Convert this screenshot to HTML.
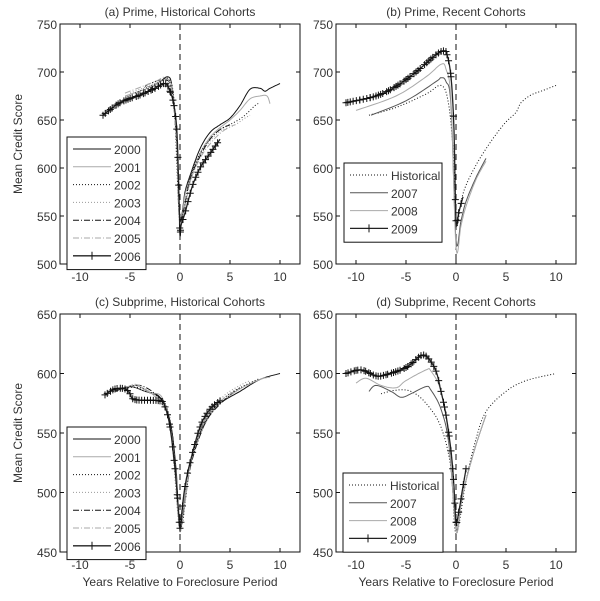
<!DOCTYPE html><html><head><style>body{margin:0;background:#fff}svg{display:block}text{font-family:"Liberation Sans",sans-serif;fill:#333}</style></head><body>
<svg id="s" width="600" height="601" xmlns="http://www.w3.org/2000/svg"></svg>
<script>
const S=document.getElementById('s');let out='';
function P(L,T,W,H,x0,x1,y0,y1){return{L,T,W,H,fx:x=>L+(x-x0)/(x1-x0)*W,fy:y=>T+H-(y-y0)/(y1-y0)*H};}
function interp(pts){let r=[];for(let i=0;i<pts.length-1;i++){let p0=pts[Math.max(0,i-1)],p1=pts[i],p2=pts[i+1],p3=pts[Math.min(pts.length-1,i+2)];for(let t=0;t<1;t+=0.1){let t2=t*t,t3=t2*t;let f=(a,b,c,d)=>0.5*(2*b+(-a+c)*t+(2*a-5*b+4*c-d)*t2+(-a+3*b-3*c+d)*t3);r.push([f(p0[0],p1[0],p2[0],p3[0]),f(p0[1],p1[1],p2[1],p3[1])]);}}r.push(pts[pts.length-1]);return r;}
const ST={s:'stroke="#111" stroke-width="1"',g:'stroke="#aaa" stroke-width="1"',d:'stroke="#111" stroke-dasharray="1,2"',dg:'stroke="#999" stroke-dasharray="1,2"',dd:'stroke="#111" stroke-dasharray="6,2,1,2"',dgd:'stroke="#aaa" stroke-dasharray="6,2,1,2"',m:'stroke="#222" stroke-width="1.3"',dk:'stroke="#555" stroke-width="1"'};
function mk(X,Y){out+=`<path d="M${X-3.5},${Y}h7M${X},${Y-3.5}v7" stroke="#111"/>`;}
function line(p,pts,st,mark){let c=interp(pts);out+=`<polyline fill="none" ${ST[st]} points="${c.map(q=>p.fx(q[0]).toFixed(1)+','+p.fy(q[1]).toFixed(1)).join(' ')}"/>`;if(mark){let x0=pts[0][0],x1=pts[pts.length-1][0];for(let x=x0;x<=x1+1e-6;x+=0.25){let best=c.reduce((a,b)=>Math.abs(b[0]-x)<Math.abs(a[0]-x)?b:a);mk(p.fx(best[0]),p.fy(best[1]));}
c.forEach((q,i)=>{if(i%10==5&&q[0]>-1.2&&q[0]<0.3){mk(p.fx(q[0]),p.fy(q[1]));}});}}
function axes(p,title,yt,xl){let {L,T,W,H}=p;out+=`<text x="${L+W/2}" y="${T-8}" font-size="12" text-anchor="middle">${title}</text>`;
out+=`<line x1="${p.fx(0)}" y1="${T}" x2="${p.fx(0)}" y2="${T+H}" stroke="#111" stroke-dasharray="6,4"/>`;
for(let x=-10;x<=10;x+=5){let X=p.fx(x);out+=`<path d="M${X},${T+H}v-4M${X},${T}v4" stroke="#111"/><text x="${X}" y="${T+H+17}" font-size="12" text-anchor="middle">${x}</text>`;}
yt.forEach(y=>{let Y=p.fy(y);out+=`<path d="M${L},${Y}h4M${L+W},${Y}h-4" stroke="#111"/><text x="${L-3}" y="${Y+5}" font-size="12" text-anchor="end">${y}</text>`;});
out+=`<rect x="${L}" y="${T}" width="${W}" height="${H}" fill="none" stroke="#111"/>`;
if(xl)out+=`<text x="${L+W/2}" y="${T+H+34}" font-size="12" text-anchor="middle">Years Relative to Foreclosure Period</text>`;}
function legend(x,y,w,items){let h=items.length*17.8+8;out+=`<rect x="${x}" y="${y}" width="${w}" height="${h}" fill="#fff" stroke="#111"/>`;items.forEach((it,i)=>{let Y=y+12+i*17.8;out+=`<line x1="${x+6}" y1="${Y}" x2="${x+44}" y2="${Y}" ${ST[it[1]]}/>`;if(it[1]=='m')out+=`<path d="M${x+25},${Y-4}v8" stroke="#111"/>`;out+=`<text x="${x+47}" y="${Y+5}" font-size="12">${it[0]}</text>`;});}
const yrs=[['2000','s'],['2001','g'],['2002','d'],['2003','dg'],['2004','dd'],['2005','dgd'],['2006','m']];
let a=P(60,24,240,240,-12,12,500,750);axes(a,'(a) Prime, Historical Cohorts',[500,550,600,650,700,750],false);
out+=`<text transform="translate(22,144) rotate(-90)" font-size="12" text-anchor="middle">Mean Credit Score</text>`;
line(a,[[-3,683],[-2,690],[-1.2,695],[-0.8,685],[-0.4,640],[0,548],[0.5,575],[1,592],[2,620],[3,637],[4,645],[5,652],[6,665],[7,682],[8,683],[8.5,680],[9,683],[10,688]],'s');
line(a,[[-5.5,675],[-3,684],[-1.5,692],[-0.8,685],[-0.4,640],[0,545],[0.5,572],[1,588],[2,615],[3,632],[4,642],[5,650],[6,660],[7,672],[8,675],[8.7,675],[9,667]],'g');
line(a,[[-4.5,678],[-2,690],[-1.2,693],[-0.6,670],[0,550],[1,590],[2,615],[3,630],[4,640],[5.5,648],[6.5,655],[7.5,665],[8,668]],'d');
line(a,[[-5,678],[-2,690],[-1.2,692],[-0.6,668],[0,548],[1,585],[2,612],[3,628],[4,638],[5.5,645],[6.5,652],[7,655]],'dg');
line(a,[[-3.5,685],[-3,688],[-1.5,692],[-0.8,680],[-0.3,620],[0,545],[1,588],[2,612],[3,630],[4,640],[5,645]],'dd');
line(a,[[-5.5,678],[-2.5,690],[-1.5,694],[-0.8,680],[-0.3,620],[0,542],[1,585],[2,610],[3,625],[4,636],[5,643],[5.5,645]],'dgd');
line(a,[[-7.7,655],[-6,668],[-4,676],[-2.5,683],[-1.5,688],[-1,680],[-0.6,665],[-0.3,636],[-0.1,570],[0,530],[0.1,540],[0.5,553],[0.8,565],[1.3,583],[2,600],[2.5,608],[3,615],[4,630]],'m',1);
legend(67,137,79,yrs);
let b=P(336,24,240,240,-12,12,500,750);axes(b,'(b) Prime, Recent Cohorts',[500,550,600,650,700,750],false);
line(b,[[-8.7,655],[-6,663],[-3,677],[-1.5,686],[-0.8,670],[-0.3,620],[0,540],[0.5,565],[1,582],[2,603],[3,620],[4,635],[5,648],[6,658],[6.5,668],[7.5,676],[8.5,680],[10,686]],'d');
line(b,[[-8.5,655],[-5,670],[-2,690],[-1.5,694],[-1,690],[-0.5,665],[0,525],[0.5,545],[1,565],[2,590],[3,610]],'dk');
line(b,[[-10,660],[-6,675],[-3,695],[-1.5,708],[-1,703],[-0.5,670],[0,518],[0.5,540],[1,560],[2,588],[3,607]],'g');
line(b,[[-11,668],[-8,675],[-6,685],[-4,700],[-2,718],[-1.2,722],[-0.9,718],[-0.5,695],[-0.2,640],[0,545],[0.3,555],[0.7,570]],'m',1);
legend(344,163,98,[['Historical','d'],['2007','dk'],['2008','g'],['2009','m']]);
let c=P(60,314,240,238,-12,12,450,650);axes(c,'(c) Subprime, Historical Cohorts',[450,500,550,600,650],true);
out+=`<text transform="translate(22,433) rotate(-90)" font-size="12" text-anchor="middle">Mean Credit Score</text>`;
line(c,[[-6.5,585],[-5,589],[-3.5,585],[-2,580],[-1,560],[-0.4,520],[0,468],[0.5,500],[1,525],[2,550],[3,565],[4,575],[6,585],[8,595],[10,600]],'s');
line(c,[[-6,586],[-4.5,590],[-3,584],[-1.8,580],[-1,555],[-0.4,515],[0,467],[0.5,500],[1,522],[2,548],[3,565],[4,575],[6,587],[8,595],[9,597]],'g');
line(c,[[-5.5,588],[-4,588],[-2.5,582],[-1.5,575],[-0.8,550],[0,470],[1,522],[2,550],[3,566],[4.5,580],[6,588],[8,596]],'d');
line(c,[[-5,590],[-3.5,585],[-2,578],[-1,560],[0,472],[1,525],[2,552],[3,568],[4.5,582],[6,590],[7,594]],'dg');
line(c,[[-5.5,588],[-4,590],[-2.5,583],[-1.5,572],[-0.7,545],[0,475],[1,520],[2,548],[3,565],[5,582],[6,588]],'dd');
line(c,[[-5.5,587],[-4.5,591],[-3,584],[-1.5,570],[-0.7,540],[0,470],[1,522],[2,550],[3,567],[4.5,580],[5.5,585]],'dgd');
line(c,[[-7.5,582],[-6.5,587],[-5.5,587],[-5,583],[-4.5,578],[-2,577],[-1.5,572],[-1,555],[-0.5,520],[-0.2,490],[0,470],[0.2,485],[0.5,505],[1,525],[2,555],[3,570],[4,577]],'m',1);
legend(67,427,79,yrs);
let d=P(336,314,240,238,-12,12,450,650);axes(d,'(d) Subprime, Recent Cohorts',[450,500,550,600,650],true);
line(d,[[-7.5,583],[-6,586],[-4.5,585],[-3,575],[-1.5,555],[-0.5,520],[0,465],[1,510],[2,545],[3,568],[5,585],[7,594],[10,600]],'d');
line(d,[[-8.7,585],[-8,590],[-6.5,585],[-5.5,580],[-4.5,583],[-3,589],[-2.5,586],[-1.5,570],[-0.7,540],[0,470],[0.5,490],[1,510],[2,540],[3,565]],'dk');
line(d,[[-10,592],[-9,596],[-7.5,590],[-6,588],[-5,594],[-3,603],[-2.5,602],[-1.5,585],[-0.7,545],[0,468],[0.5,490],[1,510],[2,540],[3,565]],'g');
line(d,[[-11,600],[-9.5,603],[-8,598],[-7,599],[-5,605],[-3.5,615],[-2.8,613],[-2,602],[-1.5,585],[-1,565],[-0.5,535],[-0.2,505],[0,475],[0.3,485],[0.7,505],[1,520]],'m',1);
legend(343,473,100,[['Historical','d'],['2007','dk'],['2008','g'],['2009','m']]);
S.innerHTML=out;
</script></body></html>
